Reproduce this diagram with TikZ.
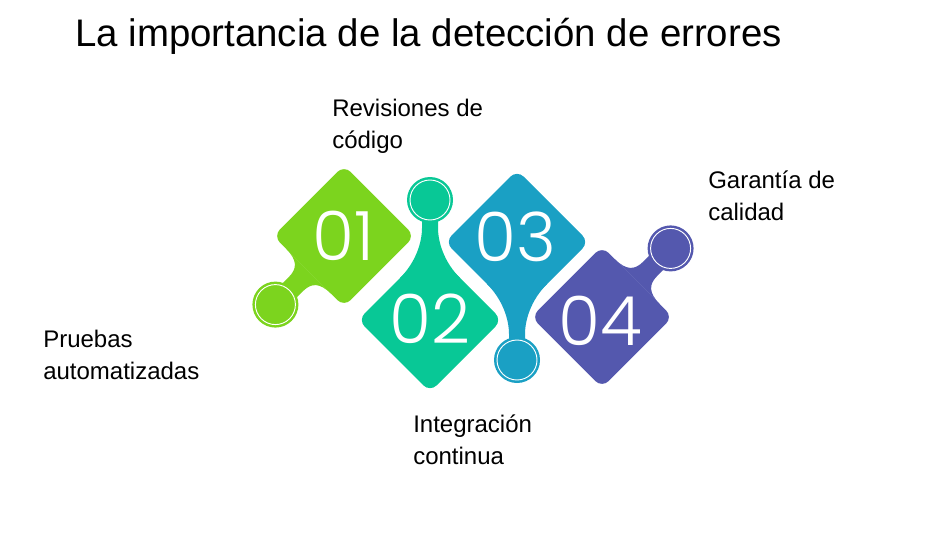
\documentclass[tikz,border=0pt]{standalone}
\usepackage{fontspec}
\setmainfont{Liberation Sans}
\newfontfamily\numfont{Poppins Light}
\usepackage{tikz}
\usetikzlibrary{positioning}
\definecolor{pcgreen}{RGB}{124,212,30}
\definecolor{pcteal}{RGB}{8,200,150}
\definecolor{pcblue}{RGB}{26,160,196}
\definecolor{pcpurple}{RGB}{84,88,174}

\begin{document}
\begin{tikzpicture}[x=0.75pt,y=0.75pt,
  num/.style={font=\numfont\fontsize{51}{51}\selectfont,text=white,inner sep=0pt},
  lbl/.style={font=\fontsize{18}{24}\selectfont,align=left,inner sep=0pt,anchor=base west},
  ring/.style={draw=white,line width=0.7pt}]
\useasboundingbox (0,0) rectangle (934,558);
% title
\node[anchor=base west,inner sep=0pt,font=\fontsize{28.8}{34}\selectfont] (title) at (75,511) {La importancia de la detección de errores};

% piece 01: knob on the lower-left edge
\begin{scope}[shift={(344,322)},rotate=135]
  \fill[pcgreen,rounded corners=7pt] (-50,-50) rectangle (50,50);
  \fill[pcgreen] (-32,50) .. controls (-16,50) and (-10,56) .. (-10,68) -- (-10,82) -- (10,82) -- (10,68) .. controls (10,56) and (16,50) .. (32,50) -- cycle;
  \fill[pcgreen] (0,97) circle[radius=23];
  \draw[ring] (0,97) circle[radius=20];
\end{scope}
% piece 02: knob on the top corner
\begin{scope}[shift={(430,238)}]
  \fill[pcteal,rounded corners=7pt] (0,-72) -- (72,0) -- (0,72) -- (-72,0) -- cycle;
  \fill[pcteal] (-30,42) .. controls (-14,58) and (-8,78) .. (-8,92) -- (-8,102) -- (8,102) -- (8,92) .. controls (8,78) and (14,58) .. (30,42) -- cycle;
  \fill[pcteal] (0,120) circle[radius=23];
  \draw[ring] (0,120) circle[radius=20];
\end{scope}
% piece 03: knob on the bottom corner
\begin{scope}[shift={(517,316)},rotate=180]
  \fill[pcblue,rounded corners=7pt] (0,-72) -- (72,0) -- (0,72) -- (-72,0) -- cycle;
  \fill[pcblue] (-30,42) .. controls (-14,58) and (-8,78) .. (-8,92) -- (-8,100) -- (8,100) -- (8,92) .. controls (8,78) and (14,58) .. (30,42) -- cycle;
  \fill[pcblue] (0,118) circle[radius=23];
  \draw[ring] (0,118) circle[radius=20];
\end{scope}
% piece 04: knob on the upper-right edge
\begin{scope}[shift={(602,241)},rotate=-45]
  \fill[pcpurple,rounded corners=7pt] (-50,-50) rectangle (50,50);
  \fill[pcpurple] (-32,50) .. controls (-16,50) and (-10,56) .. (-10,68) -- (-10,82) -- (10,82) -- (10,68) .. controls (10,56) and (16,50) .. (32,50) -- cycle;
  \fill[pcpurple] (0,97) circle[radius=23];
  \draw[ring] (0,97) circle[radius=20];
\end{scope}

% numbers
\node[num] (n01) at (343,322) {01};
\node[num] (n02) at (430,239) {02};
\node[num] (n03) at (515,321) {03};
\node[num] (n04) at (600,237) {04};

% labels (base = last line)
\node[lbl] (rev) at (332,410) {Revisiones de\\código};
\node[lbl] (gar) at (708,338) {Garantía de\\calidad};
\node[lbl] (pru) at (43,179) {Pruebas\\automatizadas};
\node[lbl] (int) at (413,94) {Integración\\continua};
\end{tikzpicture}
\end{document}
